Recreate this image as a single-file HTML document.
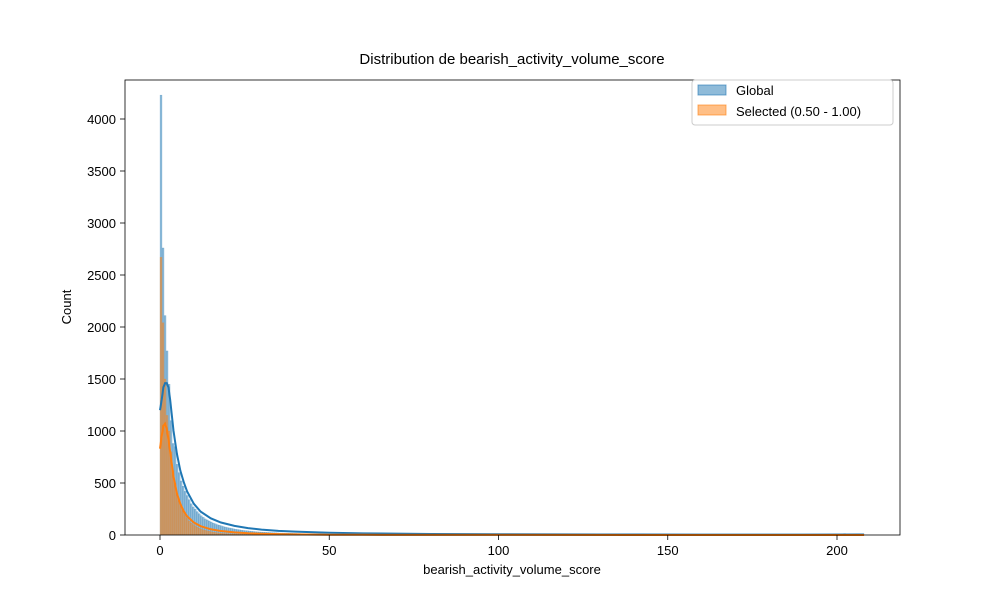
<!DOCTYPE html>
<html><head><meta charset="utf-8"><style>
body{margin:0;background:#fff;}
svg{display:block;font-family:"Liberation Sans","DejaVu Sans",sans-serif;}
</style></head><body>
<svg id="chart" width="1000" height="600" viewBox="0 0 1000 600">
<rect width="1000" height="600" fill="#fff"/>
<g id="bars-global"></g>
<g id="bars-selected"></g>
<g id="lines"></g>
<rect x="125" y="80" width="775" height="455" fill="none" stroke="#000" stroke-width="0.8"/>
<g id="axes"></g>
<text x="512" y="64" text-anchor="middle" font-size="15">Distribution de bearish_activity_volume_score</text>
<text x="512" y="574" text-anchor="middle" font-size="13">bearish_activity_volume_score</text>
<text transform="translate(71,307) rotate(-90)" text-anchor="middle" font-size="13">Count</text>
<g>
<rect x="692" y="80" width="201" height="45" rx="3" fill="#fff" fill-opacity="0.8" stroke="#ccc"/>
<rect x="698" y="85" width="28" height="10" fill="rgba(31,119,180,0.5)" stroke="rgba(31,119,180,0.6)"/>
<text x="736" y="95" font-size="13">Global</text>
<rect x="698" y="105" width="28" height="10" fill="rgba(255,127,14,0.5)" stroke="rgba(255,127,14,0.6)"/>
<text x="736" y="116" font-size="13">Selected (0.50 - 1.00)</text>
</g>
</svg>
<script>
const binWidth = 0.594;
const globalCounts = [4230,2760,2110,1770,1450,1100,880,850,680,600,520,470,420,380,340,300,270,250,225,205,185,170,155,145,135,125,115,108,100,95,88,82,77,72,68,64,60,56,53,50,47,44,42,40,38,36,34,32,30,29,28,27,26,25,24,23,22,21,20,19,19,18,17,17,16,16,15,15,14,14,13,13,12,12,12,11,11,10,10,10,9,9,9,8,8,8,8,7,7,7];
const globalTail = [7,7,6,6,6,6,6,5,5,5,5,5,5,5,4,4,4,4,4,4,4,4,4,3,3,3,3,3,3,3,3,3,3,3,3,3,3,2,2,2,2,2,2,2,2,2,2,2,2,2,2,2,2,2,2,2,2,2,2,2,2,2,2,2,1,1,1,1,1,1,1,1,1,1,1,1,1,1,1,1,1,1,1,1,1,1,1,1,1,1,1,1,1,1,1,1,1,1,1,1,1,1,1,1,1,1,1,1,1,1,1,1,1,1,1,1,1,1,1,1,1,1,1,1,1,1,1,1,1,1,1,1,1,1,1,1,1,1,1,1,1,1,1,1,1,1,1,1,1,1,1,1,1,1,1,1,1,1,1,1,1,1,1,1,1,1,1,1,1,1,1,1,1,1,1,1,1,1,1,1,1,1,1,1,1,1,1,1,1,1,1,1,1,1,1,1,1,1,1,1,1,1,1,1,1,1,1,1,1,1,1,1,1,1,1,1,1,1,1,1,1,1,1,1,1,1,1,1,1,1,1,1,1,1,1,1,1,1,1,1,1,1,1,1,1,1,1,1,1,1,14];
const selectedCounts = [2670,2040,1500,1150,1000,800,620,500,400,330,270,230,190,160,135,115,100,88,76,66,58,51,45,40,36,32,28,25,22,20,18,16,14,13,12,11,10,9,8,7,7,6,6,5,5,5,4,4,4,3,3,3,3,2,2,2,2,2,2,2];
const kdeGlobalX = [0,0.5,1,1.5,2,2.5,3,4,5,6,7,8,10,12,15,18,22,26,30,35,40,50,60,80,100,130,160,190,208];
const kdeGlobalY = [1200,1300,1420,1460,1460,1420,1300,1000,780,620,510,420,300,225,160,120,88,66,52,40,32,22,16,10,7,5,4,4,5];
const kdeSelX = [0,0.5,1,1.5,2,2.5,3,4,5,6,7,8,10,12,15,18,22,26,30,35,40,50,60,80,100,150,208];
const kdeSelY = [830,950,1050,1070,1020,920,800,560,400,300,230,180,120,85,55,38,25,17,12,8,6,3,2,1,1,0,0];
const xTicks = [0,50,100,150,200];
const yTicks = [0,500,1000,1500,2000,2500,3000,3500,4000];

const X = v => 160 + v * 3.385;
const Y = v => 535 - v * 0.104;
const NS = 'http://www.w3.org/2000/svg';
function mk(tag, attrs, parent){const e=document.createElementNS(NS,tag);for(const k in attrs)e.setAttribute(k,attrs[k]);parent.appendChild(e);return e;}

const allGlobal = globalCounts.concat(globalTail);
const gG = document.getElementById('bars-global');
allGlobal.forEach((c,i)=>{
  const r = mk('rect',{x:X(i*binWidth),y:Y(c),width:binWidth*3.385,height:535-Y(c),fill:'rgba(31,119,180,0.5)',stroke:'rgba(31,119,180,0.5)','stroke-width':0.3},gG);
  
  
});
const gS = document.getElementById('bars-selected');
selectedCounts.forEach((c,i)=>{
  const r = mk('rect',{x:X(i*binWidth),y:Y(c),width:binWidth*3.385,height:535-Y(c),fill:'rgba(255,127,14,0.5)',stroke:'rgba(255,127,14,0.5)','stroke-width':0.3},gS);
  
  
});
const gl = document.getElementById('lines');
const pg = mk('polyline',{points:kdeGlobalX.map((x,i)=>X(x)+','+Y(kdeGlobalY[i])).join(' '),fill:'none',stroke:'#1f77b4','stroke-width':2},gl);


const ps = mk('polyline',{points:kdeSelX.map((x,i)=>X(x)+','+Y(kdeSelY[i])).join(' '),fill:'none',stroke:'#ff7f0e','stroke-width':2},gl);



const ax = document.getElementById('axes');
xTicks.forEach(t=>{
  const l = mk('line',{x1:X(t),x2:X(t),y1:535,y2:540,stroke:'#000','stroke-width':0.8},ax);
  
  
  const tx = mk('text',{x:X(t),y:555,'text-anchor':'middle','font-size':13},ax);
  tx.textContent = t;
  
  
});
yTicks.forEach(t=>{
  const l = mk('line',{x1:120,x2:125,y1:Y(t),y2:Y(t),stroke:'#000','stroke-width':0.8},ax);
  
  
  const tx = mk('text',{x:116,y:Y(t)+5,'text-anchor':'end','font-size':13},ax);
  tx.textContent = t;
  
  
});
</script>
</body></html>
